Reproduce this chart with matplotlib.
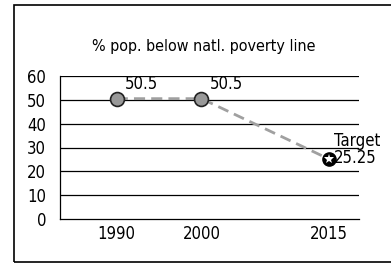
import matplotlib.pyplot as plt
import matplotlib.patches as patches

plt.rcParams['font.family'] = ['DejaVu Sans']
plt.rcParams['font.stretch'] = 'condensed'

# Дані
years = [1990, 2000]
values = [50.5, 50.5]
target_year = 2015
target_value = 25.25
x_ticks = [1990, 2000, 2015]
y_ticks = [0, 10, 20, 30, 40, 50, 60]
title = '% pop. below natl. poverty line'

fig = plt.figure(figsize=(3.91, 2.68), dpi=100)
ax = fig.add_axes([60/391, 1 - 219/268, 299/391, 143/268])

# Рамка навколо всього малюнка
frame = patches.Rectangle((14/391, 6/268), 1.2, 257/268, transform=fig.transFigure,
                          facecolor='none', edgecolor='black', linewidth=1.2,
                          clip_on=False)
fig.patches.append(frame)

for y in y_ticks[1:]:
    ax.axhline(y, color='black', linewidth=0.9, zorder=1)

# Пунктирна лінія
ax.plot(years + [target_year], values + [target_value], color='#a0a0a0',
        linestyle=(0, (4, 2.2)), linewidth=2.0, zorder=2)
ax.plot(years, values, 'o', markersize=10, markerfacecolor='#999999',
        markeredgecolor='#222222', markeredgewidth=1.2, zorder=3)
ax.plot([target_year], [target_value], 'o', markersize=9.5, color='black', zorder=3)
ax.plot([target_year], [target_value], '*', markersize=7, color='white',
        markeredgewidth=0, zorder=4)

for x, v in zip(years, values):
    ax.annotate(f'{v:g}', (x, v), xytext=(6, 4), textcoords='offset points',
                fontsize=12, ha='left', va='bottom')
ax.annotate(f'Target\n{target_value:g}', (target_year, target_value), xytext=(4, -6),
            textcoords='offset points', fontsize=12, ha='left', va='bottom',
            linespacing=0.95)

ax.set_xlim(1983.3, 2018.6)
ax.set_ylim(0, 60)
ax.set_xticks(x_ticks)
ax.set_yticks(y_ticks)
ax.tick_params(length=0, labelsize=12)
ax.tick_params(axis='y', pad=10)
ax.tick_params(axis='x', pad=4)
for s in ['top', 'right']:
    ax.spines[s].set_visible(False)
for s in ['left', 'bottom']:
    ax.spines[s].set_linewidth(0.9)

fig.text(204/391, 1 - 47/268, title, ha='center', va='center', fontsize=11.5)

fig.savefig('out.png', dpi=100)
